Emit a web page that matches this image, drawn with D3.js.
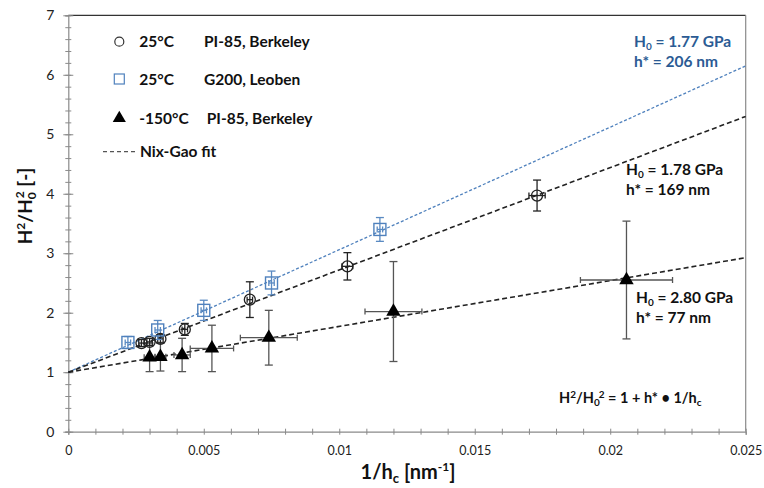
<!DOCTYPE html>
<html><head><meta charset="utf-8">
<script src="https://cdn.jsdelivr.net/npm/d3@7"></script>
<style>
body{margin:0;background:#fff;}
svg{display:block;font-family:Lato,"Open Sans",sans-serif;}
</style></head>
<body><svg id="c" width="764" height="488"></svg>
<script>
// ---- data ----
const xTicks = [0, 0.005, 0.01, 0.015, 0.02, 0.025];
const xTickLabels = ["0", "0.005", "0.01", "0.015", "0.02", "0.025"];
const yTicks = [0, 1, 2, 3, 4, 5, 6, 7];

// 25°C PI-85, Berkeley (open circles)
const circX    = [0.0027, 0.0030, 0.0034, 0.0043, 0.0067, 0.0103, 0.0173];
const circY    = [1.49, 1.51, 1.56, 1.72, 2.22, 2.78, 3.97];
const circYErr = [0.06, 0.06, 0.07, 0.10, 0.30, 0.23, 0.26];
const circXErr = [0.0001, 0.0001, 0.0001, 0.0001, 0.0001, 0.0002, 0.0003];

// 25°C G200, Leoben (open squares)
const sqX    = [0.0022, 0.0033, 0.0050, 0.0075, 0.0115];
const sqY    = [1.50, 1.71, 2.04, 2.50, 3.40];
const sqYErr = [0.10, 0.16, 0.17, 0.20, 0.20];
const sqXErr = [0.0001, 0.0001, 0.0001, 0.0001, 0.0001];

// -150°C PI-85, Berkeley (filled triangles)
const triX    = [0.0030, 0.0034, 0.0042, 0.0053, 0.0074, 0.0120, 0.0206];
const triY    = [1.25, 1.26, 1.29, 1.40, 1.58, 2.02, 2.55];
const triYErr = [0.24, 0.24, 0.28, 0.39, 0.46, 0.84, 0.99];
const triXErr = [0.0002, 0.0002, 0.0003, 0.0008, 0.00105, 0.00105, 0.0017];

// Nix-Gao fits: H²/H0² = 1 + h* · x
const fitIntercept = [1, 1, 1];
const fitSlope = [206, 172, 77];   // blue, black (25°C), black (-150°C)

// ---- layout ----
const svg = d3.select("#c");
const x = d3.scaleLinear().domain([0, 0.025]).range([68.3, 745.7]);
const y = d3.scaleLinear().domain([0, 7]).range([431.7, 15.3]);
const axisCol = "#8a8a8a";
const blue = "#4f81bd";
const blueText = "#2b5b94";

// frame: top and right borders
svg.append("line").attr("x1", x(0)).attr("x2", x(0.025)).attr("y1", y(7)).attr("y2", y(7))
  .attr("stroke", "#333").attr("stroke-width", 1.2);
svg.append("line").attr("x1", x(0.025)).attr("x2", x(0.025)).attr("y1", y(7)).attr("y2", y(0))
  .attr("stroke", axisCol).attr("stroke-width", 1.2);

// x axis
const minorX = d3.range(0, 26).map(i => i * 0.001);
const gxm = svg.append("g").attr("transform", `translate(0,${y(0)})`)
  .call(d3.axisBottom(x).tickValues(minorX).tickSize(3).tickFormat(""));
gxm.selectAll(".tick line").attr("y1", -3).attr("stroke", axisCol);
gxm.select(".domain").attr("stroke", axisCol).attr("stroke-width", 1.2);
const gx = svg.append("g").attr("transform", `translate(0,${y(0)})`)
  .call(d3.axisBottom(x).tickValues(xTicks).tickSize(0).tickPadding(14)
    .tickFormat((d, i) => xTickLabels[i]));
gx.select(".domain").remove();
gx.selectAll("text").attr("font-size", 12.5).attr("fill", "#222").attr("font-family", "Lato,sans-serif");

// y axis
const minorY = d3.range(0, 36).map(i => i * 0.2);
const gym = svg.append("g").attr("transform", `translate(${x(0)},0)`)
  .call(d3.axisLeft(y).tickValues(minorY).tickSize(3).tickFormat(""));
gym.selectAll(".tick line").attr("x1", 3).attr("stroke", axisCol);
gym.select(".domain").attr("stroke", axisCol).attr("stroke-width", 1.2);
const gy = svg.append("g").attr("transform", `translate(${x(0)},0)`)
  .call(d3.axisLeft(y).tickValues(yTicks).tickSize(5).tickPadding(9).tickFormat(d3.format("d")));
gy.selectAll(".tick line").attr("x1", 5).attr("stroke", axisCol);
gy.select(".domain").remove();
gy.selectAll("text").attr("font-size", 14).attr("fill", "#222").attr("font-family", "Lato,sans-serif");

// axis titles
const xt = svg.append("text").attr("x", 408).attr("y", 479).attr("text-anchor", "middle")
  .attr("font-size", 20).attr("font-weight", "bold").attr("fill", "#111");
xt.append("tspan").text("1/h");
xt.append("tspan").attr("font-size", 13).attr("dy", 4).text("c");
xt.append("tspan").attr("dy", -4).text(" [nm");
xt.append("tspan").attr("font-size", 12).attr("dy", -8).text("-1");
xt.append("tspan").attr("dy", 8).text("]");

const yt = svg.append("text").attr("transform", "translate(32,206) rotate(-90)").attr("text-anchor", "middle")
  .attr("font-size", 19).attr("font-weight", "bold").attr("fill", "#111");
yt.append("tspan").text("H");
yt.append("tspan").attr("font-size", 12).attr("dy", -7).text("2");
yt.append("tspan").attr("dy", 7).text("/H");
yt.append("tspan").attr("font-size", 12).attr("dy", 4).text("0");
yt.append("tspan").attr("font-size", 12).attr("dx", -6).attr("dy", -12).text("2");
yt.append("tspan").attr("dy", 8).text(" [-]");

// fit lines
const fitStyles = [
  {stroke: blue, dash: "3,2", w: 1.3},
  {stroke: "#222", dash: "5,3", w: 1.6},
  {stroke: "#222", dash: "5,3", w: 1.6}
];
fitSlope.forEach((s, i) => {
  const f = v => fitIntercept[i] + s * v;
  svg.append("line").attr("x1", x(0)).attr("y1", y(f(0))).attr("x2", x(0.025)).attr("y2", y(f(0.025)))
    .attr("stroke", fitStyles[i].stroke).attr("stroke-width", fitStyles[i].w)
    .attr("stroke-dasharray", fitStyles[i].dash);
});

// error bars helper
function errBars(xs, ys, xe, ye, col, capV, capH) {
  const g = svg.append("g").attr("stroke", col).attr("stroke-width", 1.3).attr("fill", "none");
  xs.forEach((xv, i) => {
    const cx = x(xv), cy = y(ys[i]);
    const yt = y(ys[i] + ye[i]), yb = y(ys[i] - ye[i]);
    g.append("line").attr("x1", cx).attr("x2", cx).attr("y1", yt).attr("y2", yb);
    g.append("line").attr("x1", cx - capV).attr("x2", cx + capV).attr("y1", yt).attr("y2", yt);
    g.append("line").attr("x1", cx - capV).attr("x2", cx + capV).attr("y1", yb).attr("y2", yb);
    const xl = x(xv - xe[i]), xr = x(xv + xe[i]);
    g.append("line").attr("x1", xl).attr("x2", xr).attr("y1", cy).attr("y2", cy);
    g.append("line").attr("x1", xl).attr("x2", xl).attr("y1", cy - capH).attr("y2", cy + capH);
    g.append("line").attr("x1", xr).attr("x2", xr).attr("y1", cy - capH).attr("y2", cy + capH);
  });
}

errBars(triX, triY, triXErr, triYErr, "#555", 4, 3);
errBars(circX, circY, circXErr, circYErr, "#222", 4, 3);
errBars(sqX, sqY, sqXErr, sqYErr, "#5a8ac2", 4, 3);

// markers
const triSym = d3.symbol().type(d3.symbolTriangle).size(90);
svg.append("g").selectAll("path").data(triX).join("path")
  .attr("transform", (d, i) => `translate(${x(d)},${y(triY[i])})`)
  .attr("d", triSym()).attr("fill", "#000");
svg.append("g").selectAll("circle").data(circX).join("circle")
  .attr("cx", d => x(d)).attr("cy", (d, i) => y(circY[i])).attr("r", 5.5)
  .attr("fill", "none").attr("stroke", "#222").attr("stroke-width", 1.3);
svg.append("g").selectAll("rect").data(sqX).join("rect")
  .attr("x", d => x(d) - 6).attr("y", (d, i) => y(sqY[i]) - 6).attr("width", 12).attr("height", 12)
  .attr("fill", "none").attr("stroke", blue).attr("stroke-width", 1.4);

// legend
const lg = svg.append("g").attr("font-size", 15.5).attr("font-weight", "bold").attr("fill", "#111");
const legRows = [41.7, 79, 118.3, 151.7];
lg.append("circle").attr("cx", 119.3).attr("cy", legRows[0]).attr("r", 4.5)
  .attr("fill", "none").attr("stroke", "#333").attr("stroke-width", 1.2);
lg.append("rect").attr("x", 114.3).attr("y", legRows[1] - 5).attr("width", 10).attr("height", 10)
  .attr("fill", "none").attr("stroke", blue).attr("stroke-width", 1.2);
lg.append("path").attr("transform", `translate(119.3,${legRows[2]})`)
  .attr("d", d3.symbol().type(d3.symbolTriangle).size(75)()).attr("fill", "#000");
lg.append("line").attr("x1", 103).attr("x2", 136).attr("y1", legRows[3]).attr("y2", legRows[3])
  .attr("stroke", "#555").attr("stroke-width", 1.3).attr("stroke-dasharray", "4,3");
const legText = [["25°C", "PI-85, Berkeley", 204], ["25°C", "G200, Leoben", 204], ["-150°C", "PI-85, Berkeley", 206.7]];
legText.forEach((t, i) => {
  lg.append("text").attr("x", 139.3).attr("y", legRows[i] + 5.5).text(t[0]);
  lg.append("text").attr("x", t[2]).attr("y", legRows[i] + 5.5).text(t[1]);
});
lg.append("text").attr("x", 140).attr("y", legRows[3] + 5.5).text("Nix-Gao fit");

// annotations (two lines)
function hLabel(xp, yp, hval, hstar, col) {
  const g = svg.append("g").attr("font-size", 15.5).attr("font-weight", "bold").attr("fill", col);
  const t = g.append("text").attr("x", xp).attr("y", yp);
  t.append("tspan").text("H");
  t.append("tspan").attr("font-size", 10).attr("dy", 3).text("0");
  t.append("tspan").attr("dy", -3).text(" = " + hval);
  g.append("text").attr("x", xp).attr("y", yp + 20).text("h* = " + hstar);
}
hLabel(634, 46.5, "1.77 GPa", "206 nm", blueText);
hLabel(626, 175, "1.78 GPa", "169 nm", "#111");
hLabel(636, 303, "2.80 GPa", "77 nm", "#111");

const ft = svg.append("text").attr("x", 559).attr("y", 403).attr("font-size", 14.5).attr("font-weight", "bold").attr("fill", "#111");
ft.append("tspan").text("H");
ft.append("tspan").attr("font-size", 10).attr("dy", -5).text("2");
ft.append("tspan").attr("dy", 5).text("/H");
ft.append("tspan").attr("font-size", 10).attr("dy", 3).text("0");
ft.append("tspan").attr("font-size", 10).attr("dx", -1).attr("dy", -8).text("2");
ft.append("tspan").attr("dy", 5).text(" = 1 + h* • 1/h");
ft.append("tspan").attr("font-size", 10).attr("dy", 3).text("c");
</script></body></html>
